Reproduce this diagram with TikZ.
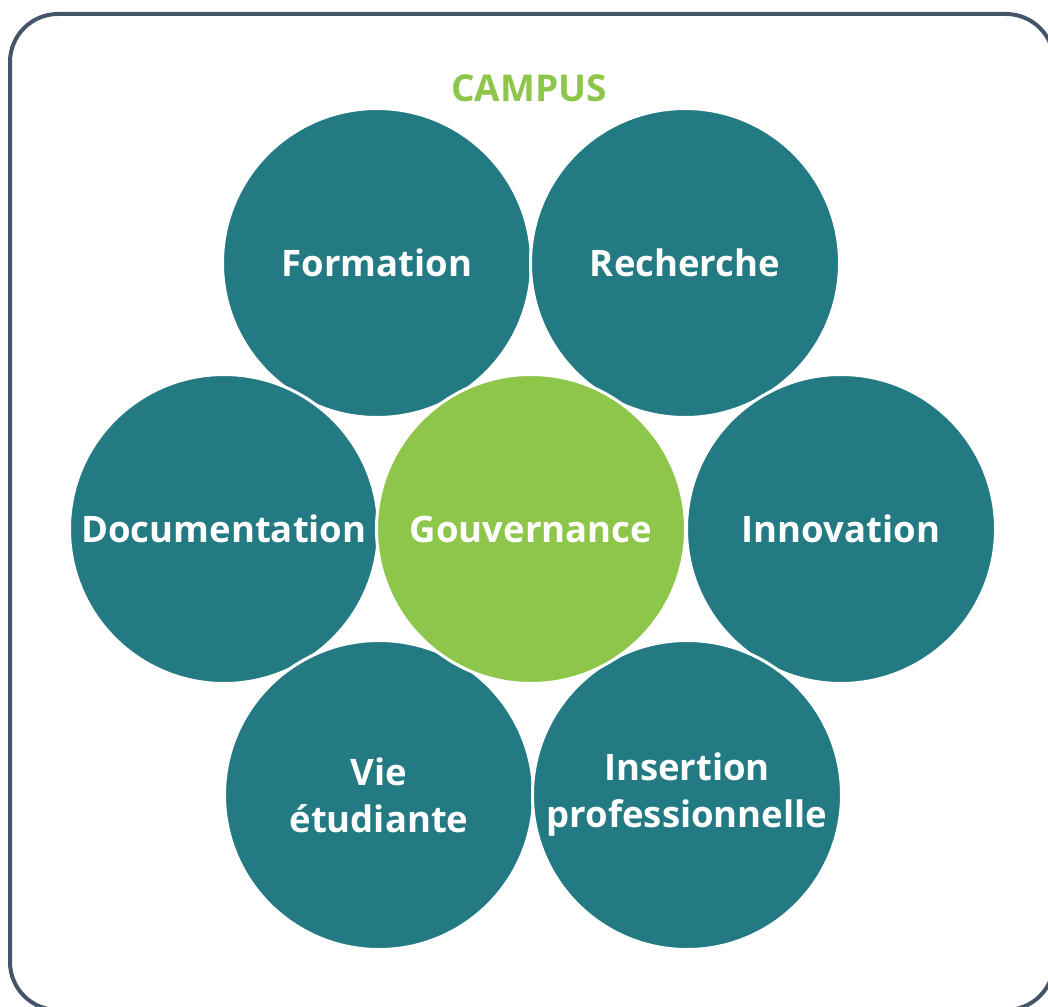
\documentclass[tikz,border=0pt]{standalone}
\usepackage{fontspec}
\setmainfont{Open Sans}
\definecolor{teal}{RGB}{36,122,130}
\definecolor{lgreen}{RGB}{141,198,74}
\definecolor{frame}{RGB}{70,84,104}
\begin{document}
\begin{tikzpicture}[x=1pt,y=-1pt,
  bub/.style={circle,minimum size=309pt,inner sep=0pt,fill=teal,draw=white,line width=3pt,
    text=white,font=\fontsize{36.5}{47}\selectfont\bfseries,align=center},
  gov/.style={bub,fill=lgreen}]
\useasboundingbox (0,0) rectangle (1048,1006);
\draw[frame,line width=4pt,rounded corners=48pt] (10,14) rectangle (1054,1010);
\node[text=lgreen,font=\fontsize{37}{40}\selectfont\bfseries] (campus) at (529,88) {CAMPUS};
\node[bub] (form) at (377,263) {Formation};
\node[bub] (rech) at (685,263) {Recherche};
\node[bub] (doc) at (224,529) {Documentation};
\node[bub] (inno) at (841,529) {Innovation};
\node[bub] (vie) at (379,795) {Vie\\étudiante};
\node[bub] (ins) at (687,795) {Insertion\\professionnelle};
\node[gov] (gov) at (531,529) {Gouvernance};
\end{tikzpicture}
\end{document}
